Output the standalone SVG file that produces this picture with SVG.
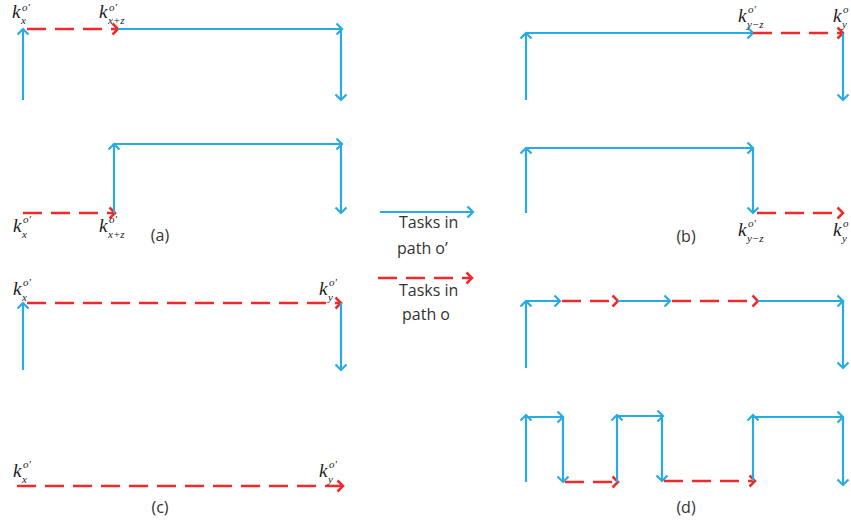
<svg xmlns="http://www.w3.org/2000/svg" width="851" height="525" viewBox="0 0 851 525">
<defs>
<style>
.b{fill:none;stroke:#29abe2;stroke-width:2.2;marker-end:url(#ab)}
.r{fill:none;stroke:#ee2a2a;stroke-width:2.5;stroke-dasharray:19 9;marker-end:url(#ar)}
.k{font-family:"Liberation Serif",serif;font-style:italic;font-size:19px;fill:#222}
.s{font-family:"Liberation Serif",serif;font-style:italic;font-size:11px;fill:#222}
.t{font-family:"Open Sans","Liberation Sans",sans-serif;font-size:16px;fill:#333}
</style>
<marker id="ab" viewBox="-8 -8 10 16" refX="0" refY="0" markerWidth="10" markerHeight="16" markerUnits="userSpaceOnUse" orient="auto"><path d="M-5.5,-5.5 L0,0 L-5.5,5.5" fill="none" stroke="#29abe2" stroke-width="2.2"/></marker>
<marker id="ar" viewBox="-8 -8 10 16" refX="0" refY="0" markerWidth="10" markerHeight="16" markerUnits="userSpaceOnUse" orient="auto"><path d="M-5.5,-5.5 L0,0 L-5.5,5.5" fill="none" stroke="#ee2a2a" stroke-width="2.5"/></marker>
</defs>
<rect width="851" height="525" fill="#fff"/>
<g id="connectors">
<!-- panel a top -->
<path class="r" d="M27,29 H118"/>
<path class="b" d="M118,29 H342"/>
<path class="b" d="M23,100 V29"/>
<path class="b" d="M341,29 V100"/>
<!-- panel a bottom -->
<path class="r" d="M23,213 H115"/>
<path class="b" d="M114,213 V144"/>
<path class="b" d="M114,144 H342"/>
<path class="b" d="M341,144 V213"/>
<!-- panel b top -->
<path class="b" d="M526,100 V33"/>
<path class="b" d="M526,33 H753"/>
<path class="r" d="M753,33 H843"/>
<path class="b" d="M843,33 V100"/>
<!-- panel b bottom -->
<path class="b" d="M526,213 V148"/>
<path class="b" d="M526,148 H753"/>
<path class="b" d="M753,148 V213"/>
<path class="r" d="M757,213 H843"/>
<!-- panel c top -->
<path class="r" d="M27,303 H341"/>
<path class="b" d="M23,370 V303"/>
<path class="b" d="M341,303 V370"/>
<!-- panel c bottom -->
<path class="r" d="M17,486 H343"/>
<!-- panel d top -->
<path class="b" d="M526,301 H560"/>
<path class="r" d="M562,301 H618"/>
<path class="b" d="M618,301 H670"/>
<path class="r" d="M672,301 H758"/>
<path class="b" d="M758,301 H843"/>
<path class="b" d="M526,368 V301"/>
<path class="b" d="M843,301 V368"/>
<!-- panel d bottom -->
<path class="b" d="M526,482 V415"/>
<path class="b" d="M526,417 H563"/>
<path class="b" d="M563,417 V482"/>
<path class="r" d="M565,482 H618"/>
<path class="b" d="M617,482 V415"/>
<path class="b" d="M617,416 H663"/>
<path class="b" d="M662,416 V481"/>
<path class="r" d="M664,481 H755"/>
<path class="b" d="M753,481 V415"/>
<path class="b" d="M753,417 H843"/>
<path class="b" d="M843,417 V485"/>
</g>
<g id="legend">
<path class="b" d="M380,212 H473"/>
<text class="t" x="399" y="228">Tasks in</text>
<text class="t" x="397" y="254">path o’</text>
<path class="r" d="M378,278 H472"/>
<text class="t" x="399" y="296">Tasks in</text>
<text class="t" x="402" y="320">path o</text>
</g>
<g id="panel-a">
<text class="k" x="12" y="18">k</text><text class="s" x="21" y="24">x</text><text class="s" x="22" y="11">o'</text>
<text class="k" x="99" y="18">k</text><text class="s" x="108" y="24">x+z</text><text class="s" x="109" y="11">o'</text>
<text class="k" x="13" y="232">k</text><text class="s" x="22" y="238">x</text><text class="s" x="23" y="223">o'</text>
<text class="k" x="99" y="232">k</text><text class="s" x="108" y="238">x+z</text><text class="s" x="109" y="223">o'</text>
<text class="t" x="160" y="241" text-anchor="middle">(a)</text>
</g>
<g id="panel-b">
<text class="k" x="738" y="22">k</text><text class="s" x="747" y="28">y−z</text><text class="s" x="748" y="13">o'</text>
<text class="k" x="833" y="22">k</text><text class="s" x="842" y="28">y</text><text class="s" x="843" y="13">o</text>
<text class="k" x="738" y="236">k</text><text class="s" x="747" y="242">y−z</text><text class="s" x="748" y="227">o'</text>
<text class="k" x="833" y="236">k</text><text class="s" x="842" y="242">y</text><text class="s" x="843" y="227">o</text>
<text class="t" x="686" y="242" text-anchor="middle">(b)</text>
</g>
<g id="panel-c">
<text class="k" x="13" y="295">k</text><text class="s" x="22" y="301">x</text><text class="s" x="23" y="286">o'</text>
<text class="k" x="319" y="295">k</text><text class="s" x="328" y="301">y</text><text class="s" x="329" y="286">o'</text>
<text class="k" x="13" y="477">k</text><text class="s" x="22" y="483">x</text><text class="s" x="23" y="468">o'</text>
<text class="k" x="319" y="477">k</text><text class="s" x="328" y="483">y</text><text class="s" x="329" y="468">o'</text>
<text class="t" x="160" y="513" text-anchor="middle">(c)</text>
</g>
<g id="panel-d">
<text class="t" x="686" y="513" text-anchor="middle">(d)</text>
</g>
</svg>
